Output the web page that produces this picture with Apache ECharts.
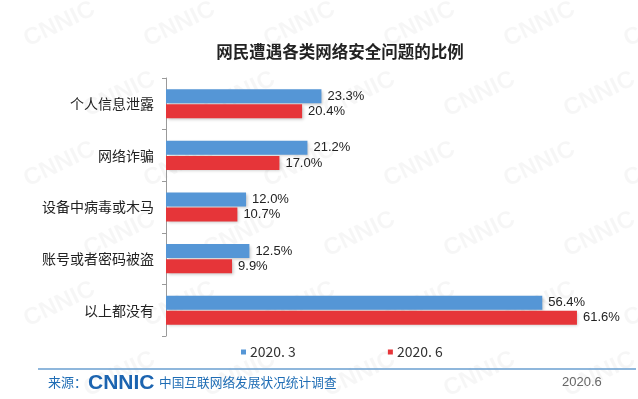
<!DOCTYPE html>
<html>
<head>
<meta charset="utf-8">
<script src="https://cdn.jsdelivr.net/npm/echarts@6/dist/echarts.min.js"></script>
<style>
  html, body { margin: 0; padding: 0; background: #fff; }
  #chart { width: 638px; height: 399px; }
</style>
</head>
<body>
<div id="chart"></div>
<script>
const categories = ["个人信息泄露", "网络诈骗", "设备中病毒或木马", "账号或者密码被盗", "以上都没有"]
const seriesNames = ["2020. 3", "2020. 6"]
const march = [23.3, 21.2, 12.0, 12.5, 56.4]
const june = [20.4, 17.0, 10.7, 9.9, 61.6]

const chart = echarts.init(document.getElementById("chart"))
const cjk = "'Noto Sans CJK SC', sans-serif"
const latin = "'Liberation Sans', Arial, sans-serif"

// faint CNNIC watermark behind everything
const marks = []
for (let row = 0; row < 6; row++) {
  for (let col = 0; col < 6; col++) {
    marks.push({
      type: "text",
      x: 20 + col * 120 + (row % 2) * 60,
      y: 30 + row * 70,
      rotation: 0.45,
      z: -10,
      silent: true,
      style: {
        text: "CNNIC",
        fill: "rgba(0,0,0,0.035)",
        font: "bold 24px " + latin,
      },
    })
  }
}

const barStyle = (color) => ({
  color,
  shadowColor: "rgba(0,0,0,0.22)",
  shadowBlur: 3,
  shadowOffsetX: 1.5,
  shadowOffsetY: 1.5,
})

chart.setOption({
  animation: false,
  backgroundColor: "#fff",
  textStyle: { fontFamily: latin },
  title: {
    text: "网民遭遇各类网络安全问题的比例",
    left: 335,
    textAlign: "center",
    top: 38,
    textStyle: { fontFamily: cjk, fontSize: 16.5, fontWeight: "bold", color: "#222" },
  },
  grid: { left: 166, right: 5, top: 78, bottom: 63 },
  legend: {
    bottom: 35,
    left: 236,
    itemGap: 92,
    itemWidth: 5,
    itemHeight: 5,
    icon: "rect",
    textStyle: { fontFamily: cjk, fontSize: 14, color: "#333", padding: [0, 0, 0, -1] },
    data: seriesNames,
  },
  xAxis: {
    type: "value",
    min: 0,
    max: 70,
    show: false,
  },
  yAxis: {
    type: "category",
    inverse: true,
    data: categories,
    axisLine: { lineStyle: { color: "#9a9a9a" } },
    axisTick: { show: true, length: 4, lineStyle: { color: "#9a9a9a" } },
    axisLabel: { fontFamily: cjk, fontSize: 14, color: "#222", margin: 12 },
  },
  series: [
    {
      name: seriesNames[0],
      type: "bar",
      data: march,
      barWidth: 14,
      barGap: "8%",
      itemStyle: barStyle("#5596d6"),
      label: {
        show: true,
        position: "right",
        distance: 6,
        fontSize: 13,
        color: "#222",
        formatter: (p) => p.value.toFixed(1) + "%",
      },
    },
    {
      name: seriesNames[1],
      type: "bar",
      data: june,
      barWidth: 14,
      itemStyle: barStyle("#e63539"),
      label: {
        show: true,
        position: "right",
        distance: 6,
        fontSize: 13,
        color: "#222",
        formatter: (p) => p.value.toFixed(1) + "%",
      },
    },
  ],
  graphic: marks.concat([
    {
      type: "line",
      shape: { x1: 38, y1: 369, x2: 636, y2: 369 },
      style: { stroke: "#6a9fd0", lineWidth: 1.5 },
    },
    {
      type: "text",
      x: 48,
      y: 376,
      style: { text: "来源：", fill: "#1f6db5", font: "13px " + cjk },
    },
    {
      type: "text",
      x: 88,
      y: 373,
      style: { text: "CNNIC", fill: "#1c64b0", font: "900 21px " + latin },
    },
    {
      type: "text",
      x: 159,
      y: 376,
      style: { text: "中国互联网络发展状况统计调查", fill: "#1f6db5", font: "12.7px " + cjk },
    },
    {
      type: "text",
      x: 562,
      y: 376,
      style: { text: "2020.6", fill: "#666", font: "13px " + latin },
    },
  ]),
})
</script>
</body>
</html>
